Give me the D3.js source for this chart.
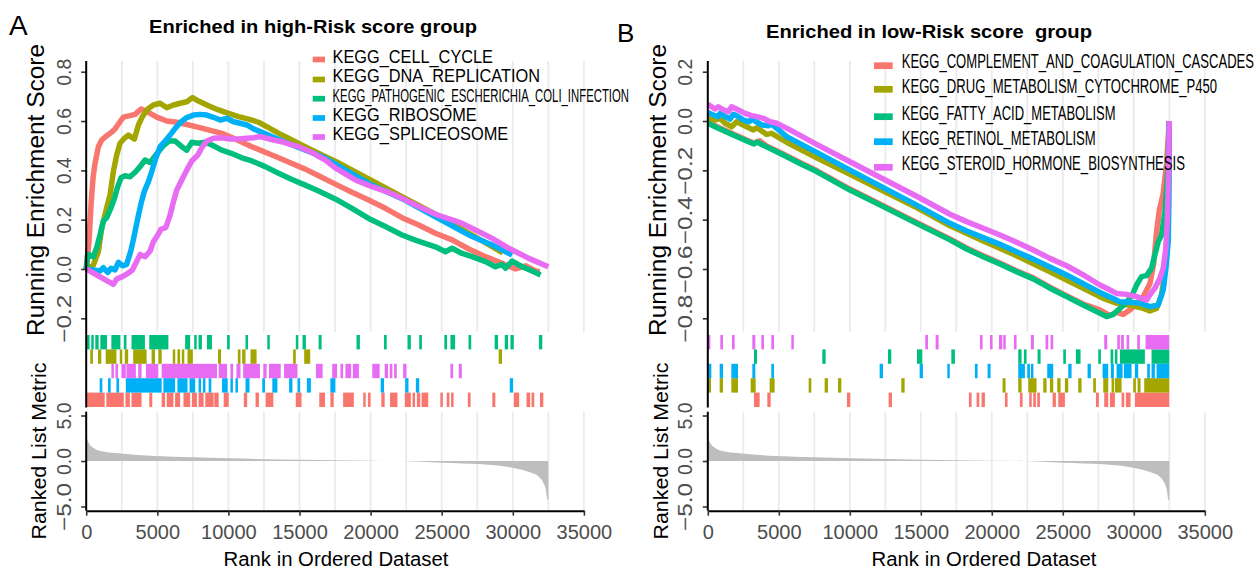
<!DOCTYPE html>
<html>
<head>
<meta charset="utf-8">
<script src="https://cdn.jsdelivr.net/npm/d3@7"></script>
<style>
  body { margin: 0; background: #fff; }
  text { font-family: "Liberation Sans", Arial, sans-serif; }
</style>
</head>
<body>
<script>
// ---- data ----
var rankTicks = [0, 5000, 10000, 15000, 20000, 25000, 30000, 35000];
var esTicksA = [-0.2, 0, 0.2, 0.4, 0.6, 0.8];
var esTicksB = [-0.8, -0.6, -0.4, -0.2, 0, 0.2];
var metricTicks = [-5, 0, 5];

var setsA = ["KEGG_CELL_CYCLE", "KEGG_DNA_REPLICATION", "KEGG_PATHOGENIC_ESCHERICHIA_COLI_INFECTION", "KEGG_RIBOSOME", "KEGG_SPLICEOSOME"];
var setsB = ["KEGG_COMPLEMENT_AND_COAGULATION_CASCADES", "KEGG_DRUG_METABOLISM_CYTOCHROME_P450", "KEGG_FATTY_ACID_METABOLISM", "KEGG_RETINOL_METABOLISM", "KEGG_STEROID_HORMONE_BIOSYNTHESIS"];

// ranked list metric (shared by both panels)
var metricRank  = [0, 60, 208, 575, 1282, 2413, 4816, 7502, 10047, 15135, 19942, 22203, 25030, 27858, 29554, 30685, 31250, 31816, 32155, 32325, 32438, 32500];
var metricValue = [3.2, 2.5, 1.9, 1.38, 1.01, 0.83, 0.54, 0.40, 0.29, 0.14, 0.04, 0, -0.18, -0.36, -0.62, -0.98, -1.27, -1.70, -2.43, -3.15, -4.24, -4.3];

// running enrichment score, panel A
var esA_cellCycle = [[0,0],[198,0.111],[338,0.259],[479,0.368],[620,0.428],[855,0.496],[1090,0.523],[1371,0.537],[1747,0.553],[2028,0.568],[2380,0.597],[2615,0.616],[3084,0.622],[3436,0.627],[3859,0.649],[4375,0.635],[4962,0.616],[5666,0.600],[6370,0.595],[7074,0.586],[7778,0.576],[8600,0.564],[9539,0.550],[10478,0.527],[11652,0.496],[12590,0.473],[13529,0.451],[14468,0.428],[15406,0.405],[16345,0.378],[17516,0.344],[18690,0.311],[19863,0.280],[21037,0.246],[22210,0.208],[23384,0.178],[24557,0.145],[25731,0.118],[26904,0.081],[28078,0.050],[29251,0.023],[30190,0.000],[30894,0.013],[31598,-0.008],[31900,-0.012]];
var esA_dnaRep = [[0,0],[503,0.016],[855,0.070],[1090,0.165],[1371,0.232],[1676,0.300],[1911,0.395],[2146,0.462],[2380,0.510],[2685,0.530],[2967,0.543],[3390,0.527],[3671,0.584],[3953,0.618],[4328,0.649],[4727,0.665],[5197,0.672],[5666,0.654],[6136,0.665],[6605,0.672],[7074,0.678],[7473,0.695],[7896,0.681],[8600,0.662],[9304,0.645],[10008,0.631],[10712,0.618],[11416,0.608],[12120,0.595],[12824,0.573],[13763,0.543],[14702,0.516],[15641,0.489],[16580,0.462],[17516,0.437],[19863,0.365],[22210,0.293],[24557,0.222],[26904,0.145],[29300,0.065]];
var esA_ecoli = [[0,0],[104,0.059],[503,0.050],[737,0.086],[972,0.138],[1207,0.195],[1442,0.208],[1747,0.249],[1981,0.286],[2216,0.334],[2451,0.370],[2732,0.378],[3084,0.374],[3436,0.392],[3789,0.415],[4141,0.442],[4493,0.432],[4892,0.462],[5361,0.496],[5830,0.519],[6253,0.519],[6722,0.496],[7074,0.482],[7426,0.514],[7896,0.510],[8365,0.514],[8835,0.503],[9539,0.482],[10243,0.468],[10947,0.451],[11652,0.438],[12590,0.415],[13529,0.388],[14468,0.363],[15406,0.340],[16345,0.316],[17516,0.284],[18690,0.246],[19863,0.205],[21037,0.172],[22210,0.138],[23149,0.117],[24557,0.090],[25261,0.070],[25731,0.084],[26435,0.063],[27139,0.050],[28078,0.030],[28782,0.009],[29251,0.019],[29486,0.003],[29956,0.032],[30660,0.009],[31363,-0.008],[31950,-0.024]];
var esA_ribosome = [[0,0],[972,-0.008],[1207,0.005],[1512,-0.014],[1747,0.003],[2028,-0.004],[2263,0.027],[2545,0.013],[2850,0.019],[3155,0.077],[3390,0.138],[3624,0.205],[3859,0.266],[4094,0.316],[4375,0.354],[4610,0.395],[4892,0.449],[5197,0.496],[5549,0.519],[5901,0.543],[6253,0.570],[6676,0.597],[7074,0.614],[7544,0.624],[8013,0.627],[8483,0.624],[8952,0.615],[9422,0.604],[9891,0.611],[10361,0.597],[10830,0.591],[11300,0.584],[11769,0.568],[12356,0.554],[13059,0.537],[13998,0.514],[14937,0.493],[15876,0.472],[16815,0.449],[17516,0.425],[19863,0.347],[22210,0.285],[24557,0.212],[26904,0.138],[28547,0.097],[29955,0.057]];
var esA_spliceosome = [[0,0],[1911,-0.062],[2146,-0.041],[2545,-0.031],[2920,-0.018],[3249,-0.004],[3483,0.023],[3789,0.059],[4141,0.050],[4493,0.073],[4727,0.111],[4962,0.131],[5267,0.162],[5596,0.168],[5901,0.219],[6136,0.273],[6370,0.320],[6722,0.361],[7074,0.401],[7426,0.438],[7849,0.462],[8130,0.492],[8482,0.519],[8952,0.530],[9539,0.532],[10126,0.527],[10712,0.527],[11300,0.530],[11769,0.532],[12238,0.537],[12707,0.530],[13176,0.523],[13763,0.516],[14352,0.505],[14937,0.496],[15876,0.472],[16815,0.442],[17516,0.410],[18924,0.361],[20098,0.334],[21271,0.311],[22210,0.287],[23384,0.253],[24557,0.222],[25731,0.199],[26435,0.185],[27374,0.158],[28547,0.124],[29720,0.084],[31129,0.043],[32500,0.009]];

// running enrichment score, panel B
var esB_complement = [[0,-0.005],[859,-0.028],[1798,-0.053],[2737,-0.077],[3253,-0.089],[3652,-0.080],[4145,-0.101],[5319,-0.134],[6492,-0.168],[7666,-0.201],[10013,-0.276],[12360,-0.343],[14707,-0.411],[17054,-0.478],[18225,-0.515],[19398,-0.546],[20572,-0.576],[21745,-0.607],[22919,-0.636],[24092,-0.674],[25266,-0.708],[26439,-0.742],[27613,-0.766],[28317,-0.789],[28786,-0.776],[29255,-0.784],[29725,-0.766],[30194,-0.743],[30665,-0.712],[31133,-0.660],[31400,-0.58],[31600,-0.45],[31800,-0.36],[32050,-0.30],[32300,-0.18],[32494,0]];
var esB_drug = [[0,0.011],[507,0.004],[859,0.011],[1211,-0.009],[1681,-0.023],[2033,-0.003],[2737,-0.023],[3206,-0.036],[3441,-0.027],[4145,-0.054],[4497,-0.050],[5553,-0.086],[7666,-0.149],[10013,-0.216],[12360,-0.284],[14707,-0.351],[17054,-0.425],[19398,-0.486],[21745,-0.546],[24092,-0.611],[26439,-0.678],[27847,-0.719],[28786,-0.739],[29961,-0.749],[30665,-0.760],[31133,-0.770],[31602,-0.760],[31954,-0.705],[32189,-0.611],[32400,-0.4],[32494,0]];
var esB_fatty = [[0,-0.009],[859,-0.032],[1798,-0.057],[2737,-0.081],[3253,-0.093],[3464,-0.085],[4145,-0.105],[5319,-0.138],[6492,-0.172],[7666,-0.205],[10013,-0.280],[12360,-0.347],[14707,-0.415],[17054,-0.482],[18225,-0.519],[19398,-0.550],[20572,-0.580],[21745,-0.611],[22919,-0.640],[24092,-0.678],[25266,-0.712],[26439,-0.746],[27378,-0.773],[28082,-0.793],[28551,-0.784],[29021,-0.760],[29490,-0.735],[29913,-0.703],[30194,-0.665],[30547,-0.631],[30898,-0.627],[31250,-0.597],[31485,-0.543],[31720,-0.489],[31954,-0.462],[32189,-0.367],[32400,-0.2],[32494,0]];
var esB_retinol = [[0,0.035],[390,0.024],[742,0.018],[859,0.031],[1211,0.018],[1563,0.008],[1798,0.027],[2033,0.022],[2502,0.004],[2924,-0.003],[3089,0.008],[3793,-0.016],[4263,-0.019],[4497,-0.013],[5553,-0.063],[7666,-0.127],[10013,-0.199],[12360,-0.270],[14707,-0.341],[17054,-0.415],[18225,-0.446],[19398,-0.473],[20572,-0.500],[21745,-0.530],[22919,-0.560],[24092,-0.592],[25266,-0.624],[26439,-0.660],[27613,-0.695],[28317,-0.714],[29021,-0.733],[29725,-0.735],[30429,-0.739],[31133,-0.753],[31720,-0.746],[32072,-0.685],[32260,-0.597],[32424,-0.489],[32480,-0.3],[32494,0]];
var esB_steroid = [[0,0.068],[507,0.049],[742,0.058],[1094,0.045],[1446,0.038],[1681,0.058],[2150,0.045],[2619,0.031],[3089,0.022],[3441,0.018],[3910,0.011],[4380,-0.003],[4849,-0.009],[5788,-0.036],[7666,-0.095],[10013,-0.165],[12360,-0.235],[14707,-0.305],[17054,-0.378],[18225,-0.408],[19398,-0.435],[20572,-0.462],[21745,-0.492],[22919,-0.523],[24092,-0.557],[25266,-0.587],[26439,-0.624],[27613,-0.665],[28082,-0.678],[28786,-0.699],[29490,-0.703],[30194,-0.712],[30898,-0.726],[31133,-0.705],[31485,-0.678],[31837,-0.638],[32072,-0.597],[32260,-0.516],[32353,-0.408],[32424,-0.273],[32471,-0.138],[32494,0]];

// gene hits (rank from, rank to), panel A
var hitsA_cellCycle = [[0,1299],[1417,2643],[2761,3068],[3186,3893],[4435,4647],[5308,5544],[5662,6133],[6251,6605],[6841,7312],[7430,7784],[7901,8255],[8373,8962],[9010,9316],[9670,10024],[11085,11321],[11910,12146],[12618,13160],[14740,15141],[16391,16791],[17171,17407],[18067,18822],[19482,19647],[19812,20001],[20755,20991],[21368,21887],[22406,22830],[22948,23066],[23255,23491],[23585,24056],[24905,25070],[25353,25542],[25660,25825],[26839,27028],[28560,28772],[30069,30447],[30966,31225],[31319,31508],[31909,32145]];
var hitsA_dnaRep = [[285,474],[828,1063],[1370,2125],[2360,2525],[2714,2950],[3304,4247],[4600,4836],[5072,5308],[6086,6251],[6416,6605],[6723,6888],[7124,7501],[9269,9482],[10661,10849],[10967,11203],[11556,11981],[14551,14740],[15330,15754],[29008,29244]];
var hitsA_ecoli = [[50,238],[356,521],[639,875],[993,1464],[1771,2407],[2643,2832],[3186,4129],[4435,5780],[6958,7312],[7595,7736],[7901,8137],[8491,8845],[9906,10095],[11203,11368],[12736,12901],[14740,14905],[15212,15448],[16344,16555],[19010,19246],[20944,21133],[22594,22830],[23420,23608],[25188,25377],[25613,25943],[26886,27075],[28725,28961],[29433,29668],[29834,30069],[31838,32074]];
var hitsA_ribosome = [[946,1134],[1535,1724],[2125,2313],[2785,5308],[5426,6251],[6416,7124],[7265,7666],[7901,8019],[8208,8373],[8609,8798],[9552,9953],[10142,10307],[10496,10661],[11203,11486],[12382,12571],[13089,13443],[14268,14504],[14858,15047],[15519,15801],[17171,17525],[20708,20944],[22429,22665],[23184,23420],[29786,30022]];
var hitsA_spliceosome = [[1771,1936],[2054,2243],[2478,2785],[2832,3493],[3658,3893],[4200,5072],[5308,9199],[9316,9906],[10142,10331],[10566,10849],[11038,12217],[12453,12689],[12854,13679],[13915,14858],[16155,16626],[17300,17643],[17878,18067],[18232,18633],[18751,19175],[20119,20637],[20991,21227],[21345,21533],[21651,21840],[22288,22524],[25613,25801],[26202,26414]];

// gene hits, panel B
var hitsB_complement = [[3253,3652],[4192,4426],[9801,10036],[12735,12970],[18389,18577],[18929,19117],[19281,19515],[20924,21111],[21980,22168],[22637,22801],[22919,23106],[23200,23388],[24280,24515],[24679,25148],[27331,27542],[27918,28199],[28317,28669],[29138,29326],[29443,29772],[30077,32500]];
var hitsB_drug = [[0,225],[836,1070],[1657,2126],[3018,3370],[4356,4708],[7102,7290],[8229,8463],[9168,9403],[13627,13862],[20759,20970],[21862,22097],[22566,23153],[23623,23857],[24092,24327],[24609,24843],[25148,25383],[26087,26322],[27143,27331],[27847,28199],[28434,28598],[28669,29138],[29960,30147],[30265,30476],[30734,32500]];
var hitsB_fatty = [[3253,3464],[8064,8299],[12688,12923],[14730,15105],[17150,17403],[21862,22097],[22261,22449],[23224,23435],[25031,25219],[25923,26251],[27495,27683],[28364,28552],[28669,28833],[29021,30781],[31250,32500]];
var hitsB_retinol = [[0,249],[836,1070],[1657,2126],[3136,3347],[4473,4661],[12101,12336],[14918,15152],[16866,17030],[18811,18999],[19703,19914],[21862,22332],[22496,22684],[22754,22919],[23904,24327],[25383,25618],[26744,26979],[27800,28199],[28387,28598],[28786,29209],[29302,29842],[30077,30312],[30945,31133],[31250,31485],[31602,32500]];
var hitsB_steroid = [[0,178],[882,1070],[1704,1892],[3136,3347],[3769,3957],[4473,4661],[5882,6046],[15317,15505],[16045,16256],[19163,19351],[19867,20055],[20501,20736],[20806,20970],[21557,21745],[22754,22965],[23787,23975],[24139,24327],[27918,28129],[28833,29021],[29091,29302],[29490,29678],[30241,30429],[30828,32500]];

// rug row (0 = top) of each gene set
var rugRowA = [4, 1, 0, 3, 2];
var rugRowB = [4, 3, 1, 2, 0];

// ---- drawing ----
var palette = ["#F8766D", "#A3A500", "#00BF7D", "#00B0F6", "#E76BF3"];
var tickGray = "#4D4D4D";

var svg = d3.select("body").append("svg")
  .attr("width", 1257)
  .attr("height", 569);

var fmt = function(v) {
  return (v < 0 ? "\u2212" : "") + Math.abs(v).toFixed(1);
};

// rotated y tick labels, as in the figure
function styleYTicks(axisG) {
  axisG.select(".domain").remove();
  axisG.selectAll(".tick line").attr("stroke", "#333").attr("stroke-width", 1.6);
  axisG.selectAll(".tick text")
    .attr("transform", "rotate(-90)")
    .attr("x", 0).attr("y", -15.5).attr("dy", 0)
    .attr("text-anchor", "middle")
    .attr("textLength", d => d < 0 ? 48 : 27)
    .attr("lengthAdjust", "spacingAndGlyphs")
    .attr("fill", tickGray)
    .style("font-size", "20px");
}

function drawPanel(p) {
  var g = svg.append("g");
  var x = d3.scaleLinear().domain([0, 35000]).range([p.x0, p.x1]);
  var yES = d3.scaleLinear().domain([p.esTop - 1.0677, p.esTop + 0.0434]).range([335, 61]);
  var yM = d3.scaleLinear().domain([-5.462, 5.418]).range([510.7, 411.7]);

  // vertical grid lines
  var grid = d3.range(2500, 35001, 2500);
  g.append("g").selectAll("line").data(grid).enter().append("line")
    .attr("x1", d => x(d)).attr("x2", d => x(d))
    .attr("y1", 61).attr("y2", 332)
    .attr("stroke", "#EBEBEB").attr("stroke-width", 1.8);
  g.append("g").selectAll("line").data(grid).enter().append("line")
    .attr("x1", d => x(d)).attr("x2", d => x(d))
    .attr("y1", 411.7).attr("y2", 510.7)
    .attr("stroke", "#EBEBEB").attr("stroke-width", 1.8);

  // running enrichment score lines
  var line = d3.line().x(d => x(d[0])).y(d => yES(d[1]));
  p.es.forEach(function(s, i) {
    g.append("path")
      .attr("d", line(s))
      .attr("fill", "none")
      .attr("stroke", palette[i])
      .attr("stroke-width", 5.5)
      .attr("stroke-linejoin", "round");
  });

  // gene hits
  var rowH = (407 - 335) / 5;
  p.hits.forEach(function(h, i) {
    g.append("g").selectAll("rect").data(h).enter().append("rect")
      .attr("x", d => x(d[0]))
      .attr("width", d => Math.max(x(d[1]) - x(d[0]), 2.5))
      .attr("y", 335 + p.rows[i] * rowH)
      .attr("height", rowH)
      .attr("fill", palette[i]);
  });

  // ranked list metric
  var pts = metricRank.map((r, i) => [r, metricValue[i]]);
  var area = d3.area()
    .x(d => x(d[0])).y0(yM(0)).y1(d => yM(d[1]))
    .curve(d3.curveMonotoneX);
  g.append("path").attr("d", area(pts)).attr("fill", "#BEBEBE");

  // y axis: running enrichment score
  var ay = g.append("g").attr("transform", "translate(" + p.x0 + ",0)")
    .call(d3.axisLeft(yES).tickValues(p.esTicks).tickSize(5).tickFormat(fmt));
  styleYTicks(ay);
  g.append("line")
    .attr("x1", p.x0).attr("x2", p.x0).attr("y1", 61).attr("y2", 407.5)
    .attr("stroke", "#000").attr("stroke-width", 2);

  // y axis: ranked list metric
  var am = g.append("g").attr("transform", "translate(" + p.x0 + ",0)")
    .call(d3.axisLeft(yM).tickValues(metricTicks).tickSize(5).tickFormat(fmt));
  styleYTicks(am);
  g.append("line")
    .attr("x1", p.x0).attr("x2", p.x0).attr("y1", 411.7).attr("y2", 510.7)
    .attr("stroke", "#000").attr("stroke-width", 2);

  // x axis
  var ax = g.append("g").attr("transform", "translate(0,510.7)")
    .call(d3.axisBottom(x).tickValues(rankTicks).tickSize(5).tickSizeOuter(0).tickPadding(9).tickFormat(d3.format("d")));
  ax.select(".domain").attr("stroke", "#000").attr("stroke-width", 2);
  ax.selectAll(".tick line").attr("stroke", "#333").attr("stroke-width", 1.6);
  ax.selectAll(".tick text").attr("fill", tickGray).style("font-size", "20px");

  // axis titles
  g.append("text")
    .attr("transform", "translate(" + (p.x0 - 42) + ",190) rotate(-90)")
    .attr("text-anchor", "middle")
    .attr("textLength", 292).attr("lengthAdjust", "spacingAndGlyphs")
    .style("font-size", "23px")
    .text("Running Enrichment Score");
  g.append("text")
    .attr("transform", "translate(" + (p.x0 - 40) + ",451) rotate(-90)")
    .attr("text-anchor", "middle")
    .attr("textLength", 177).attr("lengthAdjust", "spacingAndGlyphs")
    .style("font-size", "21px")
    .text("Ranked List Metric");
  g.append("text")
    .attr("x", p.xTitleX).attr("y", 566)
    .attr("text-anchor", "middle")
    .attr("textLength", 225).attr("lengthAdjust", "spacingAndGlyphs")
    .style("font-size", "19.5px")
    .text("Rank in Ordered Dataset");

  // title and panel letter
  g.append("text")
    .attr("x", p.titleX).attr("y", p.titleY)
    .attr("text-anchor", "middle")
    .attr("textLength", p.titleW).attr("lengthAdjust", "spacingAndGlyphs")
    .style("font-size", "18.5px").style("font-weight", "bold")
    .style("white-space", "pre")
    .text(p.title);
  g.append("text")
    .attr("x", p.letterX).attr("y", p.letterY)
    .style("font-size", p.letterSize + "px")
    .text(p.letter);

  // legend
  var lg = p.legend;
  p.names.forEach(function(n, i) {
    var cy = lg.keyY[i];
    g.append("rect")
      .attr("x", lg.keyX).attr("y", cy - lg.keyH / 2)
      .attr("width", lg.keyW).attr("height", lg.keyH)
      .attr("fill", palette[i]);
    g.append("text")
      .attr("x", lg.textX).attr("y", lg.baseY[i])
      .attr("textLength", lg.textW[i]).attr("lengthAdjust", "spacingAndGlyphs")
      .style("font-size", lg.size + "px")
      .text(n);
  });
}

drawPanel({
  x0: 86.2, x1: 583.9, esTop: 0.8, esTicks: esTicksA,
  es: [esA_cellCycle, esA_dnaRep, esA_ecoli, esA_ribosome, esA_spliceosome],
  hits: [hitsA_cellCycle, hitsA_dnaRep, hitsA_ecoli, hitsA_ribosome, hitsA_spliceosome],
  rows: rugRowA, names: setsA,
  title: "Enriched in high-Risk score group", titleX: 313, titleY: 33, titleW: 328,
  letter: "A", letterX: 9, letterY: 35, letterSize: 28,
  xTitleX: 336,
  legend: {
    keyX: 312.7, keyW: 12.3, keyH: 5.7, keyY: [59.5, 79.5, 98.7, 118, 137],
    textX: 332.5, baseY: [63, 82, 101.7, 121, 140], size: 19,
    textW: [160.5, 207.5, 296.5, 144.2, 175.8]
  }
});

drawPanel({
  x0: 707.8, x1: 1204.8, esTop: 0.2, esTicks: esTicksB,
  es: [esB_complement, esB_drug, esB_fatty, esB_retinol, esB_steroid],
  hits: [hitsB_complement, hitsB_drug, hitsB_fatty, hitsB_retinol, hitsB_steroid],
  rows: rugRowB, names: setsB,
  title: "Enriched in low-Risk score  group", titleX: 929, titleY: 37.5, titleW: 326,
  letter: "B", letterX: 617, letterY: 42, letterSize: 26,
  xTitleX: 984,
  legend: {
    keyX: 874, keyW: 18.7, keyH: 6.7, keyY: [65.7, 89.3, 116.7, 141.7, 167.3],
    textX: 901.7, baseY: [68.3, 93.3, 120, 145, 170], size: 20.5,
    textW: [352.3, 315.3, 213.8, 194, 283.3]
  }
});
</script>
</body>
</html>
